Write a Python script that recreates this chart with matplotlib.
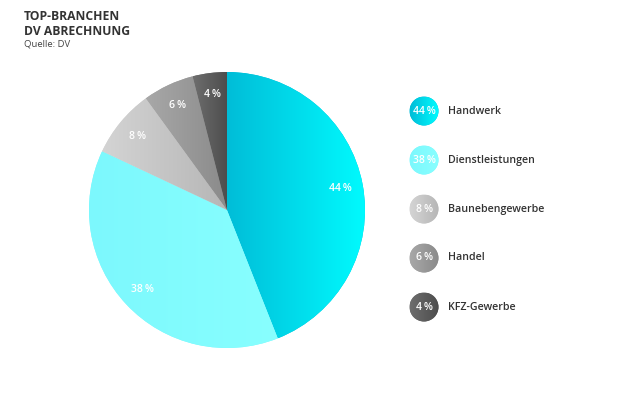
#!/usr/bin/env python3

""" Top-Branchen DV Abrechnung - pie chart with legend bubbles"""

import numpy as np
import matplotlib
matplotlib.use('Agg')
import matplotlib.pyplot as plt
from matplotlib.colors import LinearSegmentedColormap
from matplotlib.patches import Circle

plt.rcParams['font.family'] = ['Open Sans', 'DejaVu Sans']

# data.
branchen = ['Handwerk', 'Dienstleistungen', 'Baunebengewerbe', 'Handel', 'KFZ-Gewerbe']
anteile = [44, 38, 8, 6, 4]

# colours: left / right end of the horizontal gradient.
farben_links = ['#00BDD8', '#7CF8FD', '#D4D4D4', '#A8A8A8', '#6E6E6E']
farben_rechts = ['#00FCFF', '#88FFFF', '#B6B6B6', '#8A8A8A', '#4C4C4C']

W, H = 630, 412
fig = plt.figure(figsize=(W / 100, H / 100), dpi=100)
ax = fig.add_axes([0, 0, 1, 1])

# pie in pixel coordinates (y up).
cx, cy, rad = 227, 202, 138
wedges, texts, pcts = ax.pie(anteile, center=(cx, cy), radius=rad, startangle=90,
                             counterclock=False,
                             autopct=lambda p: '%d\u2009%%' % round(p),
                             pctdistance=0.84,
                             textprops=dict(color='white', fontsize=7.5, fontweight='semibold'))


def gradient_fill(patch, c1, c2):
    # paint a horizontal gradient clipped to the patch
    verts = patch.get_path().vertices
    if isinstance(patch, Circle):
        x0, x1 = patch.center[0] - patch.radius, patch.center[0] + patch.radius
        y0, y1 = patch.center[1] - patch.radius, patch.center[1] + patch.radius
    else:
        x0, x1 = verts[:, 0].min(), verts[:, 0].max()
        y0, y1 = verts[:, 1].min(), verts[:, 1].max()
    cmap = LinearSegmentedColormap.from_list('g', [c1, c2])
    grad = np.tile(np.linspace(0, 1, 256), (2, 1))
    im = ax.imshow(grad, cmap=cmap, extent=[x0, x1, y0, y1], aspect='auto',
                   interpolation='bicubic', zorder=patch.get_zorder() + 0.1)
    im.set_clip_path(patch)


for w, c1, c2 in zip(wedges, farben_links, farben_rechts):
    w.set_facecolor(c1)
    w.set_edgecolor('none')
    gradient_fill(w, c1, c2)
for t in pcts:
    t.set_zorder(5)

# legend bubbles.
lx, ly0, dy, lr = 424, 412 - 111, 49, 14.5
for i, (name, wert) in enumerate(zip(branchen, anteile)):
    y = ly0 - i * dy
    c = Circle((lx, y), lr, facecolor=farben_links[i], edgecolor='none', zorder=2)
    ax.add_patch(c)
    gradient_fill(c, farben_links[i], farben_rechts[i])
    ax.text(lx, y, '%d\u2009%%' % wert, color='white', fontsize=7.5, fontweight='semibold',
            ha='center', va='center', zorder=5)
    ax.text(448, y, name, color='#333333', fontsize=7.7, fontweight='semibold',
            ha='left', va='center', zorder=5)

# title.
ax.text(24, H - 10, 'TOP-BRANCHEN\nDV ABRECHNUNG', color='#333333', fontsize=8.7,
        fontweight='bold', ha='left', va='top', linespacing=1.15)
ax.text(24, H - 39, 'Quelle: DV', color='#444444', fontsize=6.8, ha='left', va='top')

ax.set_xlim(0, W)
ax.set_ylim(0, H)
ax.set_aspect('auto')
ax.axis('off')

fig.savefig('out.png', dpi=100, facecolor='white')
